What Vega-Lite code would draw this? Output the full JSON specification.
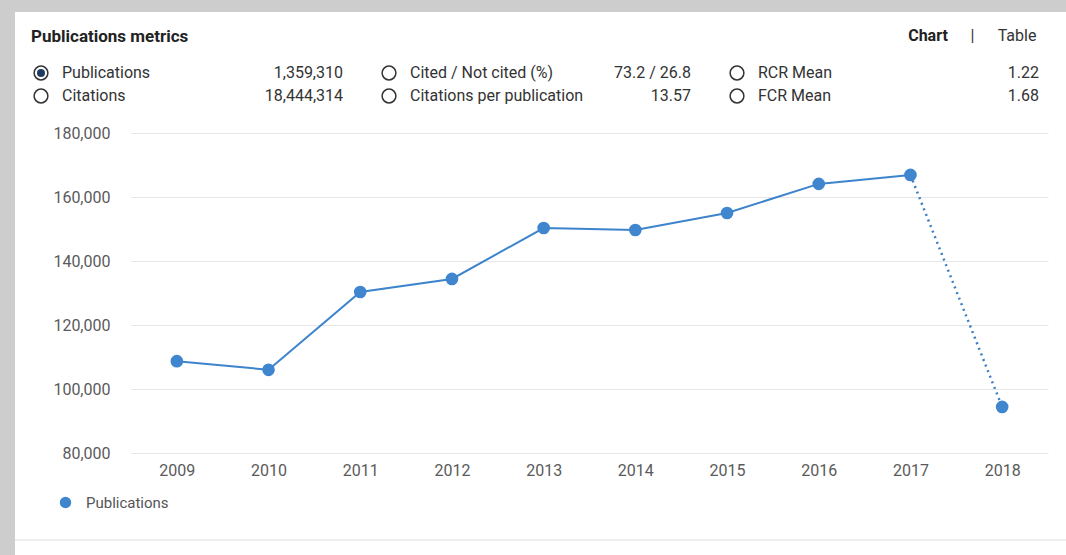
{
  "$schema": "https://vega.github.io/schema/vega-lite/v6.json",
  "width": 1051,
  "height": 543,
  "autosize": {"type": "none"},
  "padding": {"left": 15, "top": 12, "right": 0, "bottom": 0},
  "background": "#cdcdcd",
  "config": {"view": {"fill": "#ffffff", "stroke": null}, "font": "Roboto"},
  "title": {"text": "Publications metrics", "anchor": "start", "frame": "group", "orient": "top", "offset": -42, "dx": 16, "baseline": "middle", "fontSize": 17, "fontWeight": "bold", "color": "#222222", "font": "Roboto"},
  "datasets": {
    "pubs": [
      {"year": 2009, "publications": 108700, "series": "Publications"},
      {"year": 2010, "publications": 106000, "series": "Publications"},
      {"year": 2011, "publications": 130300, "series": "Publications"},
      {"year": 2012, "publications": 134400, "series": "Publications"},
      {"year": 2013, "publications": 150300, "series": "Publications"},
      {"year": 2014, "publications": 149700, "series": "Publications"},
      {"year": 2015, "publications": 155000, "series": "Publications"},
      {"year": 2016, "publications": 164100, "series": "Publications"},
      {"year": 2017, "publications": 166900, "series": "Publications"},
      {"year": 2018, "publications": 94400, "series": "Publications"}
    ],
    "metrics": [
      {"metric": "Publications", "display": "1,359,310", "group": "g1", "line": "l1", "selected": true},
      {"metric": "Citations", "display": "18,444,314", "group": "g1", "line": "l2", "selected": false},
      {"metric": "Cited / Not cited (%)", "display": "73.2 / 26.8", "group": "g2", "line": "l1", "selected": false},
      {"metric": "Citations per publication", "display": "13.57", "group": "g2", "line": "l2", "selected": false},
      {"metric": "RCR Mean", "display": "1.22", "group": "g3", "line": "l1", "selected": false},
      {"metric": "FCR Mean", "display": "1.68", "group": "g3", "line": "l2", "selected": false}
    ],
    "tabs": [
      {"tab": "Chart", "active": true},
      {"tab": "|", "active": false},
      {"tab": "Table", "active": false}
    ],
    "footer": [{"part": "footer"}]
  },
  "layer": [
    {
      "data": {"name": "pubs"},
      "encoding": {
        "x": {
          "field": "year", "type": "ordinal",
          "scale": {"type": "point", "domain": [2009, 2010, 2011, 2012, 2013, 2014, 2015, 2016, 2017, 2018], "range": [116, 1033], "padding": 0.5},
          "axis": {"orient": "bottom", "offset": -102, "domain": false, "ticks": false, "grid": false, "labelPadding": 9, "labelAngle": 0, "labelFontSize": 16, "labelColor": "#5a5a5a", "labelFont": "Roboto", "title": null}
        },
        "y": {
          "field": "publications", "type": "quantitative",
          "scale": {"domain": [80000, 180000], "range": [441, 121], "nice": false, "zero": false},
          "axis": {"orient": "left", "offset": -101, "values": [80000, 100000, 120000, 140000, 160000, 180000], "format": ",.0f", "domain": false, "ticks": false, "labelPadding": 6, "labelFontSize": 16, "labelColor": "#5a5a5a", "labelFont": "Roboto", "grid": true, "gridColor": "#e6e6e6", "gridWidth": 1, "title": null}
        }
      },
      "layer": [
        {"transform": [{"filter": "datum.year <= 2017"}], "mark": {"type": "line", "color": "#3d84cc", "strokeWidth": 2}},
        {"transform": [{"filter": "datum.year >= 2017"}], "mark": {"type": "line", "color": "#3f7fc0", "strokeWidth": 2.5, "strokeDash": [2, 4]}},
        {
          "mark": {"type": "circle", "size": 160, "opacity": 1},
          "encoding": {
            "color": {
              "field": "series", "type": "nominal",
              "scale": {"range": ["#3f86cf"]},
              "legend": {"orient": "none", "legendX": 43, "legendY": 483, "title": null, "padding": 0, "symbolType": "circle", "symbolSize": 130, "symbolStrokeWidth": 0, "labelFontSize": 15, "labelColor": "#555555", "labelFont": "Roboto", "labelOffset": 13}
            }
          }
        }
      ]
    },
    {
      "data": {"name": "metrics"},
      "encoding": {
        "x": {"field": "group", "type": "nominal", "scale": {"type": "point", "domain": ["g1", "g2", "g3"], "range": [26, 722], "padding": 0}, "axis": null},
        "y": {"field": "line", "type": "nominal", "scale": {"type": "point", "domain": ["l1", "l2"], "range": [61, 84], "padding": 0}, "axis": null}
      },
      "layer": [
        {"mark": {"type": "point", "shape": "circle", "filled": false, "size": 190, "stroke": "#333333", "strokeWidth": 1.5, "opacity": 1}},
        {"transform": [{"filter": "datum.selected"}], "mark": {"type": "circle", "size": 64, "color": "#1d3b5f", "opacity": 1}},
        {"mark": {"type": "text", "align": "left", "baseline": "middle", "dx": 21, "fontSize": 16, "color": "#333333", "font": "Roboto"}, "encoding": {"text": {"field": "metric"}}},
        {"mark": {"type": "text", "align": "right", "baseline": "middle", "dx": 302, "fontSize": 16, "color": "#333333", "font": "Roboto"}, "encoding": {"text": {"field": "display"}}}
      ]
    },
    {
      "data": {"name": "tabs"},
      "encoding": {
        "x": {"field": "tab", "type": "nominal", "scale": {"type": "point", "domain": ["Chart", "|", "Table"], "range": [913, 1002], "padding": 0}, "axis": null},
        "y": {"datum": "tabs", "type": "nominal", "scale": {"type": "point", "domain": ["tabs"], "range": [0, 48], "padding": 0.5}, "axis": null},
        "text": {"field": "tab"}
      },
      "layer": [
        {"transform": [{"filter": "datum.active"}], "mark": {"type": "text", "align": "center", "baseline": "middle", "fontSize": 16, "fontWeight": "bold", "color": "#222222", "font": "Roboto"}},
        {"transform": [{"filter": "!datum.active"}], "mark": {"type": "text", "align": "center", "baseline": "middle", "fontSize": 16, "color": "#333333", "font": "Roboto"}}
      ]
    },
    {
      "data": {"name": "footer"},
      "mark": {"type": "rule", "color": "#e8e8e8", "strokeWidth": 1.5},
      "encoding": {
        "y": {"datum": "footer", "type": "nominal", "scale": {"type": "point", "domain": ["footer"], "range": [0, 1056], "padding": 0.5}, "axis": null}
      }
    }
  ],
  "resolve": {"scale": {"x": "independent", "y": "independent", "color": "independent"}}
}
